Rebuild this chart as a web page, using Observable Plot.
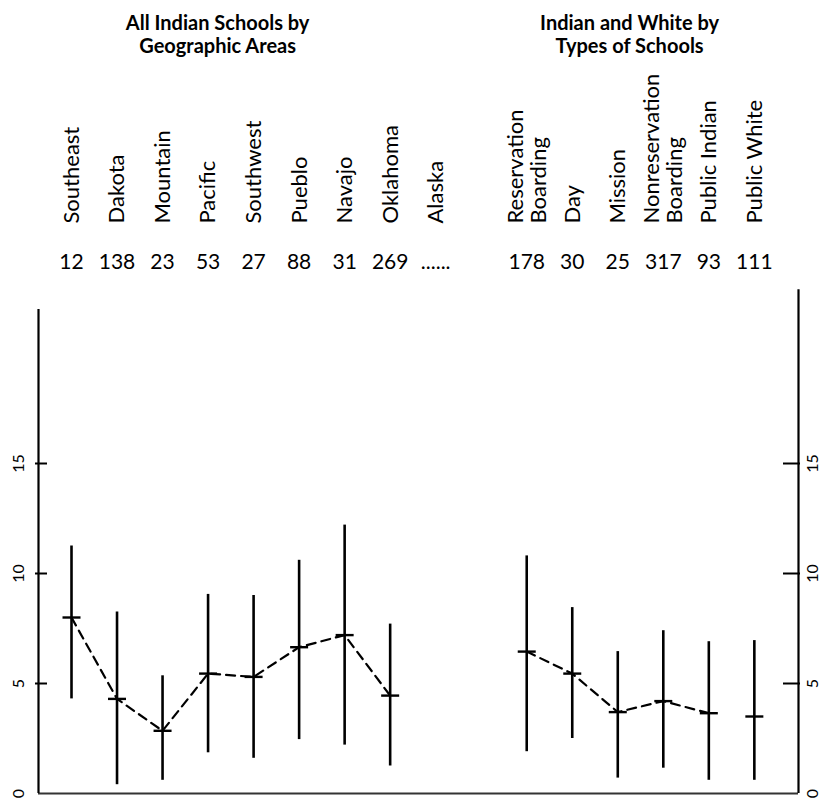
<!DOCTYPE html>
<html><head><meta charset="utf-8">
<script src="https://cdn.jsdelivr.net/npm/d3@7"></script>
<script src="https://cdn.jsdelivr.net/npm/@observablehq/plot@0.6"></script>
<style>body{margin:0;background:#fff}</style>
</head><body><div id="chart"></div>
<script>
// ---- data ----
const leftCategories = ["Southeast","Dakota","Mountain","Pacific","Southwest","Pueblo","Navajo","Oklahoma","Alaska"];
const leftCounts = ["12","138","23","53","27","88","31","269","......"];
const leftMean = [8.0, 4.3, 2.85, 5.45, 5.3, 6.65, 7.2, 4.45, null];
const leftHigh = [11.25, 8.25, 5.35, 9.05, 9.0, 10.6, 12.2, 7.7, null];
const leftLow  = [4.3, 0.4, 0.6, 1.85, 1.6, 2.45, 2.2, 1.25, null];

const rightCategories = ["Reservation\nBoarding","Day","Mission","Nonreservation\nBoarding","Public Indian","Public White"];
const rightCounts = ["178","30","25","317","93","111"];
const rightMean = [6.45, 5.45, 3.7, 4.2, 3.65, 3.5];
const rightHigh = [10.8, 8.45, 6.45, 7.4, 6.9, 6.95];
const rightLow  = [1.9, 2.5, 0.7, 1.15, 0.6, 0.6];
const rightOnLine = [true, true, true, true, true, false];

const yTicks = [0, 5, 10, 15];
const titles = [
  {text: "All Indian Schools by\nGeographic Areas", at: 3.21},
  {text: "Indian and White by\nTypes of Schools", at: 12.26}
];
const xDomain = [-0.725, 15.97];   // left axis .. right axis (category index space)
const leftAxisTop = 22.0, rightAxisTop = 22.9;

// ---- rows ----
const rows = [
  ...leftCategories.map((name, k) => ({group: "left", i: k, name, count: leftCounts[k],
    mean: leftMean[k], high: leftHigh[k], low: leftLow[k], onLine: leftMean[k] != null})),
  ...rightCategories.map((name, k) => ({group: "right", i: k + 10, name, count: rightCounts[k],
    mean: rightMean[k], high: rightHigh[k], low: rightLow[k], onLine: rightOnLine[k]}))
];
const withData = rows.filter(d => d.mean != null);

const hline = {draw(context, size) {
  const r = Math.sqrt(size / Math.PI);
  context.moveTo(-r, 0); context.lineTo(r, 0);
}};

const chart = Plot.plot({
  width: 820, height: 801,
  marginLeft: 38, marginRight: 22, marginTop: 0, marginBottom: 8,
  x: {type: "linear", domain: xDomain, axis: null},
  y: {domain: [0, 15], range: [793, 463], axis: null},
  style: {fontFamily: "Lato, sans-serif", background: "white", color: "black"},
  marks: [
    Plot.ruleY([0], {stroke: "#333", strokeWidth: 2}),
    Plot.ruleX([xDomain[0]], {y1: 0, y2: leftAxisTop, strokeWidth: 2.2}),
    Plot.ruleX([xDomain[1]], {y1: 0, y2: rightAxisTop, strokeWidth: 2.2}),
    Plot.tickY(yTicks.filter(t => t > 0), {y: d => d, insetLeft: -3, insetRight: 751, strokeWidth: 2}),
    Plot.tickY(yTicks.filter(t => t > 0), {y: d => d, insetLeft: 745, insetRight: -2, strokeWidth: 2}),
    Plot.text(yTicks, {y: d => d, text: d => String(d), frameAnchor: "left", dx: -20,
      rotate: -90, textAnchor: "middle", lineAnchor: "middle", fontSize: 16}),
    Plot.text(yTicks, {y: d => d, text: d => String(d), frameAnchor: "right", dx: 14,
      rotate: -90, textAnchor: "middle", lineAnchor: "middle", fontSize: 16}),
    Plot.ruleX(withData, {x: "i", y1: "low", y2: "high", strokeWidth: 2.6}),
    Plot.line(rows.filter(d => d.onLine), {x: "i", y: "mean", z: "group",
      strokeDasharray: "9,6", strokeWidth: 2.2}),
    Plot.dot(withData, {x: "i", y: "mean", symbol: hline, r: 9, stroke: "black", strokeWidth: 2.4}),
    Plot.text(rows, {x: "i", text: "name", frameAnchor: "top", dy: 223, rotate: -90,
      textAnchor: "start", lineAnchor: "middle", fontSize: 22, lineHeight: 1.05}),
    Plot.text(rows, {x: "i", text: "count", frameAnchor: "top", dy: 262,
      lineAnchor: "middle", fontSize: 21}),
    Plot.text(titles, {x: "at", text: "text", frameAnchor: "top", dy: 13, lineAnchor: "top",
      fontWeight: "bold", fontSize: 20, lineHeight: 1.15})
  ]
});
document.getElementById("chart").appendChild(chart);
</script>
</body></html>
